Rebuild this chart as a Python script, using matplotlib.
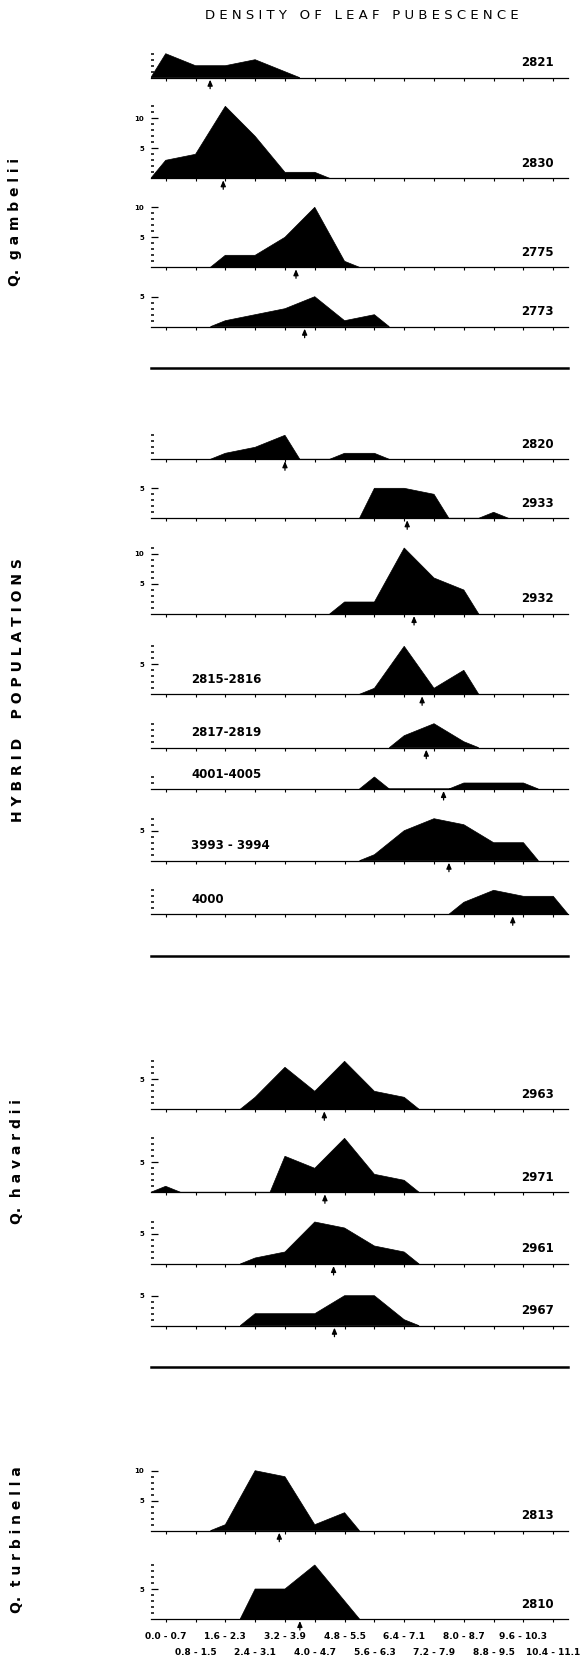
"""Density of leaf pubescence: frequency polygons per population"""

import matplotlib

matplotlib.use("Agg")
import matplotlib.pyplot as plt
from matplotlib.lines import Line2D

# hair-density classes (x axis)
categories = ["0.0 - 0.7", "0.8 - 1.5", "1.6 - 2.3", "2.4 - 3.1", "3.2 - 3.9",
              "4.0 - 4.7", "4.8 - 5.5", "5.6 - 6.3", "6.4 - 7.1", "7.2 - 7.9",
              "8.0 - 8.7", "8.8 - 9.5", "9.6 - 10.3", "10.4 - 11.1"]

# number of individuals per class
gambelii_2821 = [4, 2, 2, 3, 1, 0, 0, 0, 0, 0, 0, 0, 0, 0]
gambelii_2830 = [3, 4, 12, 7, 1, 1, 0, 0, 0, 0, 0, 0, 0, 0]
gambelii_2775 = [0, 0, 2, 2, 5, 10, 1, 0, 0, 0, 0, 0, 0, 0]
gambelii_2773 = [0, 0, 1, 2, 3, 5, 1, 2, 0, 0, 0, 0, 0, 0]
hybrid_2820 = [0, 0, 1, 2, 4, 0, 1, 1, 0, 0, 0, 0, 0, 0]
hybrid_2933 = [0, 0, 0, 0, 0, 0, 0, 5, 5, 4, 0, 1, 0, 0]
hybrid_2932 = [0, 0, 0, 0, 0, 0, 2, 2, 11, 6, 4, 0, 0, 0]
hybrid_2815_2816 = [0, 0, 0, 0, 0, 0, 0, 1, 8, 1, 4, 0, 0, 0]
hybrid_2817_2819 = [0, 0, 0, 0, 0, 0, 0, 0, 2, 4, 1, 0, 0, 0]
hybrid_4001_4005 = [0, 0, 0, 0, 0, 0, 0, 2, 0, 0, 1, 1, 1, 0]
hybrid_3993_3994 = [0, 0, 0, 0, 0, 0, 0, 1, 5, 7, 6, 3, 3, 0]
hybrid_4000 = [0, 0, 0, 0, 0, 0, 0, 0, 0, 0, 2, 4, 3, 3]
havardii_2963 = [0, 0, 0, 2, 7, 3, 8, 3, 2, 0, 0, 0, 0, 0]
havardii_2971 = [1, 0, 0, 0, 6, 4, 9, 3, 2, 0, 0, 0, 0, 0]
havardii_2961 = [0, 0, 0, 1, 2, 7, 6, 3, 2, 0, 0, 0, 0, 0]
havardii_2967 = [0, 0, 0, 2, 2, 2, 5, 5, 1, 0, 0, 0, 0, 0]
turbinella_2813 = [0, 0, 1, 10, 9, 1, 3, 0, 0, 0, 0, 0, 0, 0]
turbinella_2810 = [0, 0, 0, 5, 5, 9, 3, 0, 0, 0, 0, 0, 0, 0]

populations = ["2821", "2830", "2775", "2773",
               "2820", "2933", "2932", "2815-2816", "2817-2819", "4001-4005",
               "3993 - 3994", "4000",
               "2963", "2971", "2961", "2967",
               "2813", "2810"]
counts = [gambelii_2821, gambelii_2830, gambelii_2775, gambelii_2773,
          hybrid_2820, hybrid_2933, hybrid_2932, hybrid_2815_2816,
          hybrid_2817_2819, hybrid_4001_4005, hybrid_3993_3994, hybrid_4000,
          havardii_2963, havardii_2971, havardii_2961, havardii_2967,
          turbinella_2813, turbinella_2810]
# population means (arrows), in class units
means = [1.49, 1.93, 4.37, 4.66,
         4.0, 8.1, 8.33, 8.6, 8.74, 9.32, 9.5, 11.64,
         5.32, 5.34, 5.63, 5.66,
         3.81, 4.5]

groups = ["Q. gambelii", "HYBRID POPULATIONS", "Q. havardii", "Q. turbinella"]

# layout (pixels in a 584x1662 image)
W, H = 584, 1662
AX_LEFT, AX_RIGHT = 150.8, 568.2
UNIT = 6.0  # px per individual
baselines = [77.7, 178.3, 267.3, 326.7,
             459.3, 518.3, 614.0, 694.3, 747.7, 789.0, 860.7, 914.3,
             1109.3, 1192.3, 1264.0, 1325.7,
             1530.7, 1619.0]
label_left = ["2815-2816", "2817-2819", "4001-4005", "3993 - 3994", "4000"]
separators = [368.3, 955.7, 1367.0]
group_pos = [(15, 222), (18, 690), (17, 1162), (17, 1540)]
group_gap = [2, 4, 2, 2]

NARROW = ["Liberation Sans Narrow", "DejaVu Sans"]


def spaced(s, gap=3):
    """letter-spaced lettering like the original plate"""
    words = []
    for w in s.split():
        words.append(" ".join(w).replace(" .", "."))
    return (" " * gap).join(words)


def polygon(vals):
    """frequency polygon, closed to zero half a class outside each run"""
    xs, ys = [], []
    n = len(vals)
    for i, v in enumerate(vals):
        if v <= 0:
            continue
        if i == 0 or vals[i - 1] == 0:
            xs.append(i - 0.5)
            ys.append(0)
        xs.append(i)
        ys.append(v)
        if i == n - 1 or vals[i + 1] == 0:
            xs.append(i + 0.5)
            ys.append(0)
    return xs, ys


def main():
    fig = plt.figure(figsize=(W / 100, H / 100), dpi=100)

    last = len(populations) - 1
    for k, (name, vals, mean) in enumerate(zip(populations, counts, means)):
        base = baselines[k]
        top = max(vals)
        h_px = top * UNIT + 2
        ax = fig.add_axes([AX_LEFT / W, 1 - base / H,
                           (AX_RIGHT - AX_LEFT) / W, h_px / H])
        ax.set_xlim(-0.5, len(categories) - 0.5)
        ax.set_ylim(0, h_px / UNIT)
        ax.patch.set_visible(False)
        for s in ["top", "right", "left"]:
            ax.spines[s].set_visible(False)
        ax.spines["bottom"].set_linewidth(0.9)

        xs, ys = polygon(vals)
        ax.fill(xs, ys, facecolor="black", edgecolor="black", lw=0.5)

        # y ticks: labelled every 5, dots for each unit
        major = list(range(5, top + 1, 5))
        ax.set_yticks(major, labels=[str(v) for v in major])
        ax.set_yticks([v for v in range(1, top + 1) if v % 5], minor=True)
        ax.tick_params(axis="y", which="major", direction="in", length=5,
                       width=0.9, labelsize=5, pad=5)
        ax.tick_params(axis="y", which="minor", direction="in", length=1.8,
                       width=1.1)
        for lbl in ax.get_yticklabels():
            lbl.set_fontweight("bold")

        # x ticks
        if k == last:
            ax.set_xticks(range(0, len(categories), 2), labels=categories[0::2])
            ax.set_xticks(range(1, len(categories), 2), labels=categories[1::2],
                          minor=True)
            ax.tick_params(axis="x", which="major", pad=7)
            ax.tick_params(axis="x", which="minor", pad=19)
            for lbl in ax.get_xticklabels(which="both"):
                lbl.set_fontsize(6.5)
                lbl.set_fontweight("bold")
                lbl.set_family(NARROW)
        else:
            ax.set_xticks(range(len(categories)))
            ax.tick_params(axis="x", labelbottom=False)
        ax.tick_params(axis="x", which="both", direction="out", length=2.2,
                       width=0.8)

        # mean arrow
        ax.annotate("", xy=(mean, -2 / UNIT), xytext=(mean, -11 / UNIT),
                    arrowprops=dict(arrowstyle="-|>,head_length=0.35,head_width=0.15",
                                    color="black", lw=0.9, shrinkA=0, shrinkB=0),
                    annotation_clip=False)

        # population number
        if name in label_left:
            ax.annotate(name, xy=(0.85, 0), xytext=(0, 10.8),
                        textcoords="offset points", ha="left", va="center",
                        fontsize=8.5, fontweight="bold", annotation_clip=False)
        else:
            ax.annotate(name, xy=(12.47, 0), xytext=(0, 10.8),
                        textcoords="offset points", ha="center", va="center",
                        fontsize=8.5, fontweight="bold", annotation_clip=False)

    for y in separators:
        fig.add_artist(Line2D([AX_LEFT / W, AX_RIGHT / W], [1 - y / H] * 2,
                              transform=fig.transFigure, color="black", lw=1.8))

    for text, (x, y), gap in zip(groups, group_pos, group_gap):
        fig.text(x / W, 1 - y / H, spaced(text, gap), rotation=90, ha="center",
                 va="center", fontsize=10, fontweight="bold")

    fig.text(361.5 / W, 1 - 15.3 / H, spaced("DENSITY OF LEAF PUBESCENCE"),
             ha="center", va="center", fontsize=9.5)

    fig.savefig("out.png", dpi=100, facecolor="white")


if __name__ == "__main__":
    main()
